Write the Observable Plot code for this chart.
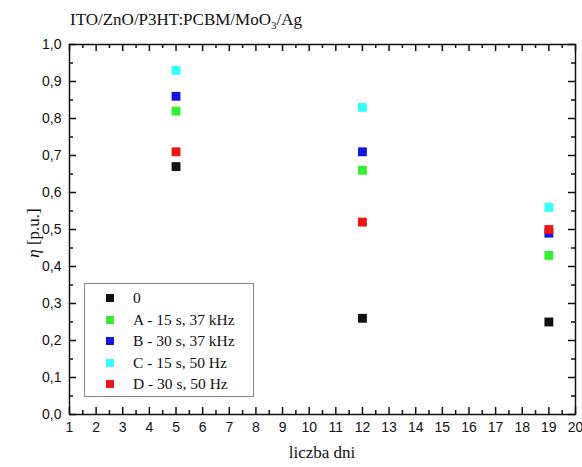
<!DOCTYPE html>
<html>
<head>
<meta charset="utf-8">
<script src="https://cdn.jsdelivr.net/npm/d3@7"></script>
<script src="https://cdn.jsdelivr.net/npm/@observablehq/plot@0.6"></script>
<style>
  html, body { margin: 0; padding: 0; background: #fff; }
  #wrap { position: relative; width: 582px; height: 467px; overflow: hidden; }
  #wrap svg { position: absolute; left: 0; top: 0; }
  .title { position: absolute; left: 70px; top: 10px; font-family: "Liberation Serif", serif; font-size: 17px; color: #111; white-space: nowrap; }
  .xlab { position: absolute; left: 69px; width: 506px; top: 443px; text-align: center; font-family: "Liberation Serif", serif; font-size: 17px; color: #111; }
  .ylab { position: absolute; left: 34px; top: 233px; transform: translate(-50%, -50%) rotate(-90deg); font-family: "Liberation Serif", serif; font-size: 17px; color: #111; white-space: nowrap; }
  .legend { position: absolute; left: 84px; top: 283px; width: 170px; height: 114px; border: 1px solid #888; background: #fff; box-sizing: border-box; font-family: "Liberation Serif", serif; font-size: 15.5px; color: #111; }
  .legend .row { position: absolute; left: 0; height: 20px; line-height: 20px; white-space: nowrap; }
  .legend .sw { position: absolute; left: 21px; top: 6px; width: 8px; height: 8px; }
  .legend .lt { position: absolute; left: 48px; top: 0; }
</style>
</head>
<body>
<div id="wrap"></div>
<script>
const days = [5, 12, 19];
const seriesNames = ["0", "A - 15 s, 37 kHz", "B - 30 s, 37 kHz", "C - 15 s, 50 Hz", "D - 30 s, 50 Hz"];
const seriesColors = ["#111111", "#33ee33", "#1515dd", "#33ffff", "#ee1515"];
const s0 = [0.67, 0.26, 0.25];
const sA = [0.82, 0.66, 0.43];
const sB = [0.86, 0.71, 0.49];
const sC = [0.93, 0.83, 0.56];
const sD = [0.71, 0.52, 0.50];
const xTicks = d3.range(1, 21, 1);
const xMinor = d3.range(1.5, 20, 1);
const yTicks = d3.range(0, 1.01, 0.1).map(v => Math.round(v * 10) / 10);
const yMinor = d3.range(0.05, 1, 0.1).map(v => Math.round(v * 100) / 100);
const titleText = "ITO/ZnO/P3HT:PCBM/MoO<sub style='font-size:11px;vertical-align:-4px'>3</sub>/Ag";
const xLabel = "liczba dni";
const yLabelHTML = "<i>η</i> [p.u.]";

const allSeries = [s0, sA, sB, sC, sD];
const rows = [];
allSeries.forEach((vals, si) => vals.forEach((v, i) => rows.push({day: days[i], value: v, series: seriesNames[si]})));

const fmtY = d => d.toFixed(1).replace(".", ",");

// tick lengths expressed in data units (x: 19 units over 506 px, y: 1 unit over 370 px)
const xMaj = 7 * 19 / 506, xMin = 4 * 19 / 506;
const yMaj = 7 / 370, yMin = 4 / 370;
const tk = {stroke: "#111", strokeWidth: 1.5};

const chart = Plot.plot({
  width: 582,
  height: 467,
  marginTop: 44,
  marginBottom: 53,
  marginLeft: 69,
  marginRight: 7,
  style: {fontFamily: "'Liberation Sans', Arial, sans-serif", fontSize: "14px", color: "#111", background: "transparent"},
  x: {domain: [1, 20], label: null},
  y: {domain: [0, 1], label: null},
  color: {domain: seriesNames, range: seriesColors},
  marks: [
    Plot.axisX({ticks: xTicks, tickSize: 0, tickPadding: 8, tickFormat: d => String(d), anchor: "bottom"}),
    Plot.axisY({ticks: yTicks, tickSize: 0, tickPadding: 8, tickFormat: fmtY, anchor: "left"}),
    // inward ticks, bottom & top
    Plot.ruleX(xTicks, {x: d => d, y1: 0, y2: yMaj, ...tk}),
    Plot.ruleX(xMinor, {x: d => d, y1: 0, y2: yMin, ...tk}),
    Plot.ruleX(xTicks, {x: d => d, y1: 1, y2: 1 - yMaj, ...tk}),
    Plot.ruleX(xMinor, {x: d => d, y1: 1, y2: 1 - yMin, ...tk}),
    // inward ticks, left & right
    Plot.ruleY(yTicks, {y: d => d, x1: 1, x2: 1 + xMaj, ...tk}),
    Plot.ruleY(yMinor, {y: d => d, x1: 1, x2: 1 + xMin, ...tk}),
    Plot.ruleY(yTicks, {y: d => d, x1: 20, x2: 20 - xMaj, ...tk}),
    Plot.ruleY(yMinor, {y: d => d, x1: 20, x2: 20 - xMin, ...tk}),
    Plot.frame({stroke: "#111", strokeWidth: 1.5}),
    Plot.dot(rows, {x: "day", y: "value", fill: "series", symbol: "square", r: 5, stroke: null})
  ]
});

const wrap = document.getElementById("wrap");
wrap.appendChild(chart);

const t = document.createElement("div"); t.className = "title"; t.innerHTML = titleText; wrap.appendChild(t);
const xl = document.createElement("div"); xl.className = "xlab"; xl.textContent = xLabel; wrap.appendChild(xl);
const yl = document.createElement("div"); yl.className = "ylab"; yl.innerHTML = yLabelHTML; wrap.appendChild(yl);

const lg = document.createElement("div"); lg.className = "legend";
seriesNames.forEach((name, i) => {
  const r = document.createElement("div"); r.className = "row"; r.style.top = (4 + i * 21.5) + "px";
  const sw = document.createElement("div"); sw.className = "sw"; sw.style.background = seriesColors[i];
  const lt = document.createElement("div"); lt.className = "lt"; lt.textContent = name;
  r.appendChild(sw); r.appendChild(lt); lg.appendChild(r);
});
wrap.appendChild(lg);
</script>
</body>
</html>
